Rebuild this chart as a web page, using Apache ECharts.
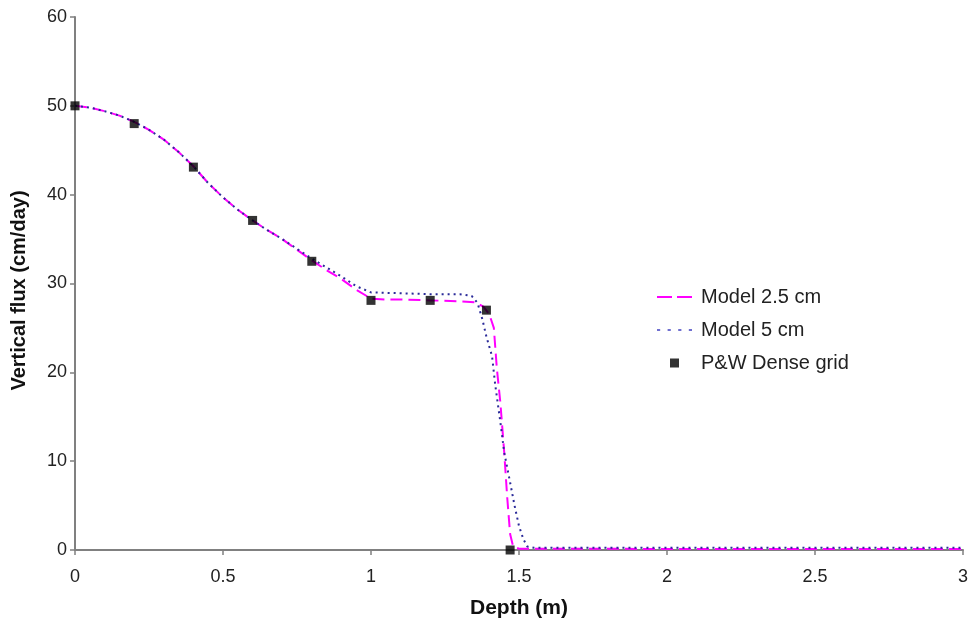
<!DOCTYPE html>
<html>
<head>
<meta charset="utf-8">
<script src="https://cdn.jsdelivr.net/npm/echarts@6/dist/echarts.min.js"></script>
<style>html,body{margin:0;padding:0;background:#fff}#c{width:972px;height:620px}</style>
</head>
<body>
<div id="c"></div>
<script>
// Model 2.5 cm (depth m, flux cm/day)
const model25Depth = [0,0.05,0.1,0.15,0.2,0.25,0.3,0.35,0.4,0.45,0.5,0.55,0.6,0.65,0.7,0.75,0.8,0.85,0.9,0.95,1.0,1.05,1.1,1.2,1.3,1.35,1.38,1.40,1.415,1.425,1.437,1.45,1.46,1.47,1.48,1.5,2.0,2.5,3.0];
const model25Flux  = [50,49.8,49.4,48.9,48.2,47.3,46.2,44.8,43.2,41.3,39.7,38.3,37.1,36.0,35.0,33.8,32.6,31.5,30.5,29.3,28.3,28.2,28.2,28.1,28.0,27.9,27.4,26.5,25.0,20.5,16.6,11,6,1.8,0.4,0.15,0.12,0.12,0.12];
// Model 5 cm
const model5Depth = [0,0.05,0.1,0.15,0.2,0.25,0.3,0.35,0.4,0.45,0.5,0.55,0.6,0.65,0.7,0.75,0.8,0.85,0.9,0.95,1.0,1.1,1.2,1.3,1.34,1.36,1.376,1.39,1.409,1.42,1.437,1.45,1.47,1.485,1.5,1.515,1.528,1.55,2.0,2.5,3.0];
const model5Flux  = [50,49.8,49.4,48.9,48.2,47.3,46.2,44.8,43.2,41.3,39.7,38.3,37.1,36.0,35.0,33.9,32.8,31.8,30.8,29.7,29.0,28.9,28.8,28.8,28.6,27.8,26,24,21.8,18.5,14.4,11,7.6,5,2.7,1.2,0.4,0.25,0.25,0.25,0.25];
// P&W Dense grid points
const pwDepth = [0,0.2,0.4,0.6,0.8,1.0,1.2,1.39,1.47];
const pwFlux  = [50,48,43.1,37.1,32.5,28.1,28.1,27.0,0];
// Axis ticks
const xTicks = ['0','0.5','1','1.5','2','2.5','3'];
const yTicks = ['0','10','20','30','40','50','60'];
const seriesNames = ['Model 2.5 cm','Model 5 cm','P&W Dense grid'];

const zip = (a,b) => a.map((v,i) => [v,b[i]]);
const font = 'Liberation Sans, Arial, sans-serif';
const pink = '#ff00ff', navy = '#2a2a99';
const chart = echarts.init(document.getElementById('c'), null, {renderer:'canvas'});
chart.setOption({
  animation:false,
  backgroundColor:'#fff',
  grid:{left:75,right:9,top:17,bottom:70,containLabel:false,outerBoundsMode:'none'},
  legend:{
    orient:'vertical', left:652, top:282,
    itemWidth:35, itemHeight:9, itemGap:13,
    textStyle:{fontFamily:font,fontSize:20,color:'#222',lineHeight:20,padding:[0,0,0,4]},
    data:[
      {name:seriesNames[0], icon:'path://M0,0h15v2h-15z M20,0h15v2h-15z', itemStyle:{color:pink,borderWidth:0}},
      {name:seriesNames[1], icon:'path://M0,0h3v2h-3z M10,0h3v2h-3z M20,0h3v2h-3z M30,0h3v2h-3z', itemStyle:{color:'#6f6fd0',borderWidth:0}},
      {name:seriesNames[2], icon:'path://M0,0L10,0L10,10L0,10Z', itemStyle:{color:'#000',borderWidth:0}}
    ]
  },
  xAxis:{
    type:'value', min:0, max:3, interval:0.5,
    name:'Depth (m)', nameLocation:'middle', nameGap:48,
    nameTextStyle:{fontFamily:font,fontSize:21,fontWeight:'bold',color:'#111'},
    axisLine:{lineStyle:{color:'#808080',width:2}},
    axisTick:{show:true,length:5,lineStyle:{color:'#808080',width:1.5}},
    axisLabel:{fontFamily:font,fontSize:18,color:'#222',margin:18,
      formatter:(v)=>xTicks[Math.round(v/0.5)]},
    splitLine:{show:false}
  },
  yAxis:{
    type:'value', min:0, max:60, interval:10,
    name:'Vertical flux (cm/day)', nameLocation:'middle', nameGap:46, nameRotate:90,
    nameTextStyle:{fontFamily:font,fontSize:20,fontWeight:'bold',color:'#111',padding:[0,14,0,0]},
    axisLine:{show:true,lineStyle:{color:'#808080',width:2}},
    axisTick:{show:true,length:5,lineStyle:{color:'#808080',width:1.5}},
    axisLabel:{fontFamily:font,fontSize:18,color:'#222',margin:8,
      formatter:(v)=>yTicks[Math.round(v/10)]},
    splitLine:{show:false}
  },
  series:[
    {name:seriesNames[0], type:'line', data:zip(model25Depth,model25Flux), showSymbol:false, symbol:'none',
     z:3, lineStyle:{color:pink,width:2,type:[12,6]}, itemStyle:{color:pink}},
    {name:seriesNames[1], type:'line', data:zip(model5Depth,model5Flux), showSymbol:false, symbol:'none',
     z:4, lineStyle:{color:navy,width:2,type:[2,4]}, itemStyle:{color:navy}},
    {name:seriesNames[2], type:'scatter', data:zip(pwDepth,pwFlux), symbol:'rect', symbolSize:9,
     z:5, itemStyle:{color:'#000'}}
  ]
});
</script>
</body>
</html>
